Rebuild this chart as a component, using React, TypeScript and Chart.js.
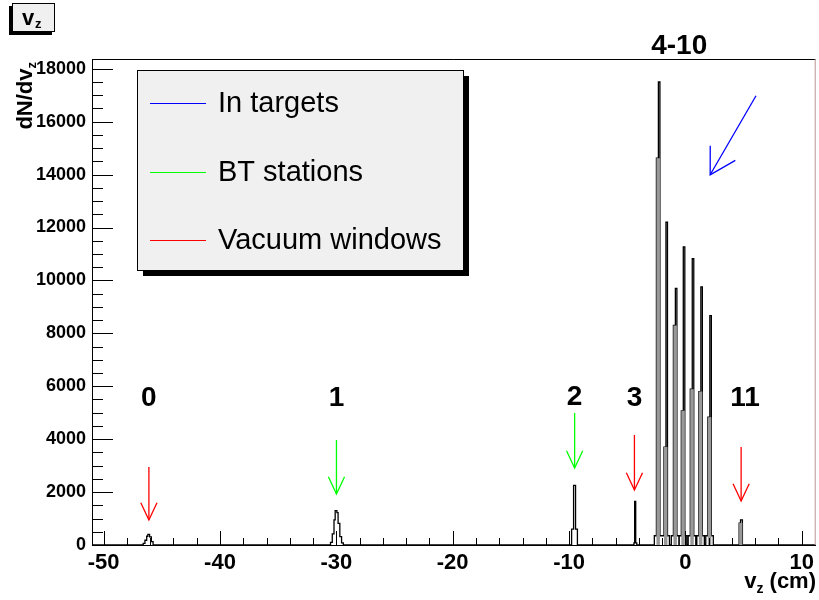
import React, { useEffect, useRef } from 'react';
import { Chart, registerables } from 'chart.js';

Chart.register(...registerables);

const X_MIN = -51;
const X_MAX = 11.2;
const Y_MAX = 18370;

const xTickValues = [-50, -40, -30, -20, -10, 0, 10];
const yTickValues = [0, 2000, 4000, 6000, 8000, 10000, 12000, 14000, 16000, 18000];

// Total histogram (black outline): bin low edges and contents (content holds until next edge)
const totalEdges = [
  -51,
  -46.6, -46.45, -46.3, -46.2, -46.05, -45.9, -45.75,
  -30.5, -30.35, -30.2, -30.1, -29.95, -29.85, -29.7, -29.55, -29.4,
  -9.78, -9.61, -9.44, -9.28,
  -4.42, -4.36, -4.27, -4.18,
  -2.67, -2.49, -2.32, -2.19,
  -2.02, -1.84, -1.67, -1.54,
  -1.37, -1.21, -1.03, -0.86, -0.73,
  -0.56, -0.53, -0.35, -0.18, -0.05,
  0.12, 0.24, 0.42, 0.59, 0.72,
  0.89, 0.98, 1.16, 1.33, 1.46,
  1.63, 1.75, 1.93, 2.1, 2.23,
  2.4,
  4.62, 4.74, 4.9,
  11.2,
];
const totalCounts = [
  0,
  60, 180, 330, 400, 310, 130, 0,
  100, 420, 950, 1300, 1220, 820, 320, 80, 0,
  600, 2250, 600, 0,
  80, 1650, 80, 0,
  350, 14620, 17500, 350,
  350, 3700, 12200, 350,
  0, 350, 8300, 9700, 350,
  0, 350, 5070, 11270, 350,
  0, 350, 5890, 10820, 350,
  0, 350, 5800, 9760, 350,
  0, 350, 4830, 8670, 350,
  0,
  830, 950, 0,
  0,
];

// "In targets" part (grey filled)
const targetEdges = [
  -51,
  -2.49, -2.19,
  -1.84, -1.54,
  -1.03, -0.73,
  -0.35, -0.05,
  0.42, 0.72,
  1.16, 1.46,
  1.93, 2.23,
  4.62, 4.9,
  11.2,
];
const targetCounts = [
  0,
  14620, 0,
  3700, 0,
  8300, 0,
  5070, 0,
  5890, 0,
  5800, 0,
  4830, 0,
  830, 0,
  0,
];

// Arrows (data coordinates)
const arrowX = [-46.11, -29.99, -9.52, -4.38, 4.79];
const arrowYFrom = [2950, 3971, 4992, 4160, 3706];
const arrowYTo = [946, 1929, 2912, 2080, 1664];
const arrowColors = ['#ff0000', '#00ff00', '#00ff00', '#ff0000', '#ff0000'];
const blueArrowFrom = [6.07, 16982];
const blueArrowTo = [2.13, 13994];

// Peak labels (data coordinates, baseline)
const peakLabels = ['0', '1', '2', '3', '11', '4-10'];
const peakLabelX = [-46.11, -29.99, -9.52, -4.38, 5.13, -0.53];
const peakLabelY = [5257, 5257, 5295, 5257, 5257, 18570];

// Legend
const legendNames = ['In targets', 'BT stations', 'Vacuum windows'];
const legendColors = ['#0000ff', '#00ff00', '#ff0000'];

const FONT = '"Liberation Sans", Arial, Helvetica, sans-serif';

function drawArrow(ctx: CanvasRenderingContext2D, x0: number, y0: number, x1: number, y1: number, color: string, head: number, open: number, width: number) {
  ctx.strokeStyle = color;
  ctx.lineWidth = width;
  ctx.beginPath();
  ctx.moveTo(x0, y0);
  ctx.lineTo(x1, y1);
  ctx.stroke();
  const ang = Math.atan2(y0 - y1, x0 - x1);
  ctx.beginPath();
  ctx.moveTo(x1 + head * Math.cos(ang - open), y1 + head * Math.sin(ang - open));
  ctx.lineTo(x1, y1);
  ctx.lineTo(x1 + head * Math.cos(ang + open), y1 + head * Math.sin(ang + open));
  ctx.stroke();
}

const decorPlugin = {
  id: 'rootDecor',
  afterDraw(chart: any) {
    const ctx: CanvasRenderingContext2D = chart.ctx;
    const xs = chart.scales.x;
    const ys = chart.scales.y;
    const a = chart.chartArea;
    ctx.save();

    // frame top/right
    ctx.lineWidth = 1;
    ctx.strokeStyle = '#000';
    ctx.beginPath();
    ctx.moveTo(a.left, a.top + 0.5);
    ctx.lineTo(a.right, a.top + 0.5);
    ctx.stroke();
    ctx.strokeStyle = '#b89494';
    ctx.beginPath();
    ctx.moveTo(a.right - 0.5, a.top);
    ctx.lineTo(a.right - 0.5, a.bottom);
    ctx.stroke();

    // x ticks (inward)
    ctx.strokeStyle = '#000';
    ctx.beginPath();
    for (let v = -50; v <= 10; v += 2) {
      const px = Math.round(xs.getPixelForValue(v)) + 0.5;
      const len = v % 10 === 0 ? 14 : 7;
      ctx.moveTo(px, a.bottom);
      ctx.lineTo(px, a.bottom - len);
    }
    // y ticks
    for (let v = 0; v <= 18000; v += 500) {
      const py = Math.round(ys.getPixelForValue(v)) + 0.5;
      const len = v % 2000 === 0 ? 21 : 11;
      ctx.moveTo(a.left, py);
      ctx.lineTo(a.left + len, py);
    }
    ctx.stroke();

    // arrows
    for (let i = 0; i < arrowX.length; i++) {
      const px = xs.getPixelForValue(arrowX[i]);
      drawArrow(ctx, px, ys.getPixelForValue(arrowYFrom[i]), px, ys.getPixelForValue(arrowYTo[i]), arrowColors[i], 19, 0.44, 1.3);
    }
    drawArrow(ctx,
      xs.getPixelForValue(blueArrowFrom[0]), ys.getPixelForValue(blueArrowFrom[1]),
      xs.getPixelForValue(blueArrowTo[0]), ys.getPixelForValue(blueArrowTo[1]),
      '#0000ff', 29, Math.PI / 6, 1.3);

    // peak labels
    ctx.fillStyle = '#000';
    ctx.font = `bold 28px ${FONT}`;
    ctx.textAlign = 'center';
    ctx.textBaseline = 'alphabetic';
    for (let i = 0; i < peakLabels.length; i++) {
      ctx.fillText(peakLabels[i], xs.getPixelForValue(peakLabelX[i]), ys.getPixelForValue(peakLabelY[i]));
    }

    // legend box
    const lx0 = 137, ly0 = 70, lx1 = 463, ly1 = 270;
    ctx.fillStyle = '#000';
    ctx.fillRect(lx0 + 6, ly0 + 6, lx1 - lx0, ly1 - ly0);
    ctx.fillStyle = '#f0f0f0';
    ctx.fillRect(lx0, ly0, lx1 - lx0, ly1 - ly0);
    ctx.strokeStyle = '#000';
    ctx.lineWidth = 1;
    ctx.strokeRect(lx0 + 0.5, ly0 + 0.5, lx1 - lx0, ly1 - ly0);
    ctx.font = `29px ${FONT}`;
    ctx.textAlign = 'left';
    ctx.textBaseline = 'middle';
    for (let i = 0; i < legendNames.length; i++) {
      const cy = 103 + i * 68.5;
      ctx.strokeStyle = legendColors[i];
      ctx.lineWidth = 1.2;
      ctx.beginPath();
      ctx.moveTo(150, Math.round(cy) + 0.5);
      ctx.lineTo(206, Math.round(cy) + 0.5);
      ctx.stroke();
      ctx.fillStyle = '#000';
      ctx.fillText(legendNames[i], 218, cy + 1);
    }

    // title box "v_z"
    ctx.fillStyle = '#000';
    ctx.fillRect(9, 6, 43, 29);
    ctx.fillStyle = '#f0f0f0';
    ctx.fillRect(12, 3, 43, 29);
    ctx.strokeStyle = '#000';
    ctx.lineWidth = 1;
    ctx.strokeRect(12.5, 3.5, 42, 28);
    ctx.fillStyle = '#000';
    ctx.textBaseline = 'alphabetic';
    ctx.font = `bold 22px ${FONT}`;
    ctx.fillText('v', 22, 25);
    ctx.font = `bold 13px ${FONT}`;
    ctx.fillText('z', 35, 28);

    // x axis title, right-aligned at the axis end
    const xEnd = 816;
    ctx.font = `bold 22px ${FONT}`;
    const wRest = ctx.measureText(' (cm)').width;
    const wv = ctx.measureText('v').width;
    ctx.font = `bold 14px ${FONT}`;
    const wz = ctx.measureText('z').width;
    const x0 = xEnd - wRest - wz - wv;
    ctx.textAlign = 'left';
    ctx.font = `bold 22px ${FONT}`;
    ctx.fillText('v', x0, 588);
    ctx.fillText(' (cm)', x0 + wv + wz, 588);
    ctx.font = `bold 14px ${FONT}`;
    ctx.fillText('z', x0 + wv, 593);

    // y axis title (rotated)
    ctx.save();
    ctx.translate(32, 62);
    ctx.rotate(-Math.PI / 2);
    ctx.textAlign = 'left';
    ctx.font = `bold 13px ${FONT}`;
    const wsub = ctx.measureText('z').width;
    ctx.font = `bold 22px ${FONT}`;
    const wmain = ctx.measureText('dN/dv').width;
    ctx.fillText('dN/dv', -(wsub + wmain), 0);
    ctx.font = `bold 13px ${FONT}`;
    ctx.fillText('z', -wsub, 4);
    ctx.restore();

    ctx.restore();
  },
};

const toPoints = (edges: number[], counts: number[]) => edges.map((x, i) => ({ x, y: counts[i] }));

export default function App() {
  const ref = useRef<HTMLCanvasElement | null>(null);
  useEffect(() => {
    if (!ref.current) return;
    const chart = new Chart(ref.current, {
      type: 'line',
      data: {
        datasets: [
          {
            label: 'In targets',
            data: toPoints(targetEdges, targetCounts),
            stepped: true,
            borderWidth: 0,
            borderColor: 'rgba(0,0,0,0)',
            backgroundColor: 'rgb(153,153,153)',
            fill: 'origin',
            pointRadius: 0,
          },
          {
            label: 'All',
            data: toPoints(totalEdges, totalCounts),
            stepped: true,
            borderWidth: 1.3,
            borderColor: '#000',
            fill: false,
            pointRadius: 0,
          },
        ],
      } as any,
      options: {
        animation: false,
        responsive: false,
        events: [],
        layout: { padding: { top: 59, right: 1, left: 0, bottom: 0 } },
        plugins: { legend: { display: false }, tooltip: { enabled: false }, title: { display: false } },
        scales: {
          x: {
            type: 'linear',
            min: X_MIN,
            max: X_MAX,
            grid: { display: false, drawTicks: false },
            border: { display: true, color: '#000', width: 1 },
            ticks: {
              autoSkip: false,
              maxRotation: 0,
              color: '#000',
              padding: 5,
              font: { family: FONT, size: 22, weight: 'bold' },
              callback: (v: any) => String(v),
            },
            afterBuildTicks: (s: any) => { s.ticks = xTickValues.map((v) => ({ value: v })); },
            afterFit: (s: any) => { s.height = 55; },
          },
          y: {
            type: 'linear',
            min: 0,
            max: Y_MAX,
            grid: { display: false, drawTicks: false },
            border: { display: true, color: '#000', width: 1 },
            ticks: {
              autoSkip: false,
              color: '#000',
              padding: 6,
              font: { family: FONT, size: 18, weight: 'bold' },
              callback: (v: any) => String(v),
            },
            afterBuildTicks: (s: any) => { s.ticks = yTickValues.map((v) => ({ value: v })); },
            afterFit: (s: any) => { s.width = 92; },
          },
        },
      } as any,
      plugins: [decorPlugin],
    });
    return () => chart.destroy();
  }, []);
  return (
    <div style={{ position: 'absolute', left: 0, top: 0, width: 819, height: 600, background: '#fff' }}>
      <canvas ref={ref} width={819} height={600} style={{ width: 819, height: 600, display: 'block' }} />
    </div>
  );
}
